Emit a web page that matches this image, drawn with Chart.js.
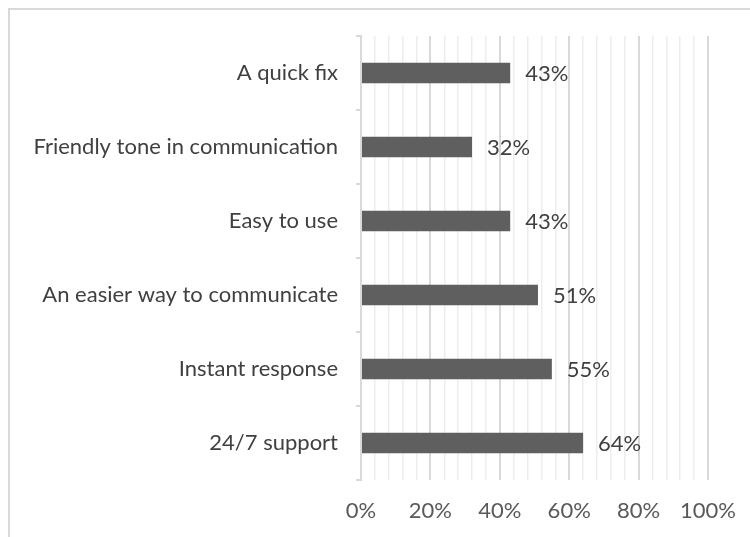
<!DOCTYPE html>
<html>
<head>
<meta charset="utf-8">
<script src="https://cdn.jsdelivr.net/npm/chart.js@4"></script>
<style>
  html, body { margin: 0; padding: 0; background: #fff; }
  #wrap { position: relative; width: 750px; height: 537px; overflow: hidden; }
  /* frame of the chart box, runs off the right and bottom */
  #frame { position: absolute; left: 8px; top: 8px; width: 800px; height: 600px;
           border-left: 2px solid #d9d9d9; border-top: 2px solid #d9d9d9; }
  canvas { position: absolute; left: 0; top: 0; }
</style>
</head>
<body>
<div id="wrap">
  <div id="frame"></div>
  <canvas id="c" width="750" height="537"></canvas>
</div>
<script>
const categories = [
  "A quick fix",
  "Friendly tone in communication",
  "Easy to use",
  "An easier way to communicate",
  "Instant response",
  "24/7 support"
];
const values = [43, 32, 43, 51, 55, 64];
const xTicks = [0, 20, 40, 60, 80, 100];

const FONT = "Lato, 'Liberation Sans', sans-serif";

// value labels to the right of each bar
const valueLabels = {
  id: "valueLabels",
  afterDatasetsDraw(chart) {
    const ctx = chart.ctx;
    const meta = chart.getDatasetMeta(0);
    ctx.save();
    ctx.font = "22px " + FONT;
    ctx.fillStyle = "#404040";
    ctx.textAlign = "left";
    ctx.textBaseline = "middle";
    meta.data.forEach((bar, i) => {
      ctx.fillText(values[i] + "%", bar.x + 15, bar.y + 1);
    });
    ctx.restore();
  }
};

new Chart(document.getElementById("c"), {
  type: "bar",
  data: {
    labels: categories,
    datasets: [{
      data: values,
      backgroundColor: "#5f5f5f",
      borderWidth: 0,
      barPercentage: 0.28,
      categoryPercentage: 1
    }]
  },
  options: {
    indexAxis: "y",
    responsive: false,
    animation: false,
    layout: { padding: { left: 20, right: 42, top: 36, bottom: 12 } },
    plugins: {
      legend: { display: false },
      tooltip: { enabled: false }
    },
    scales: {
      x: {
        min: 0,
        max: 100,
        afterBuildTicks(scale) {
          const t = [];
          for (let v = 0; v <= 100; v += 4) t.push({ value: v });
          scale.ticks = t;
        },
        afterFit(scale) {
          scale.height = 45;
          // the "100%" label may hang past the plot edge, keep the plot width fixed
          scale.paddingLeft = 0;
          scale.paddingRight = 0;
        },
        ticks: {
          autoSkip: false,
          maxRotation: 0,
          padding: 18,
          color: "#595959",
          font: { size: 22, family: FONT },
          callback: v => (xTicks.includes(v) ? v + "%" : "")
        },
        grid: {
          drawTicks: false,
          color: ctx => (ctx.tick && ctx.tick.value % 20 === 0 ? "#d9d9d9" : "#ededed"),
          lineWidth: ctx => (ctx.tick && ctx.tick.value % 20 === 0 ? 2 : 1.5)
        },
        border: { display: false }
      },
      y: {
        afterFit(scale) { scale.width = 341; },
        ticks: {
          padding: 18,
          color: "#404040",
          font: { size: 22, family: FONT }
        },
        grid: {
          offset: true,
          drawOnChartArea: false,
          tickLength: 5,
          color: "#d9d9d9",
          lineWidth: 2
        },
        border: { color: "#d9d9d9", width: 2 }
      }
    }
  },
  plugins: [valueLabels]
});
</script>
</body>
</html>
